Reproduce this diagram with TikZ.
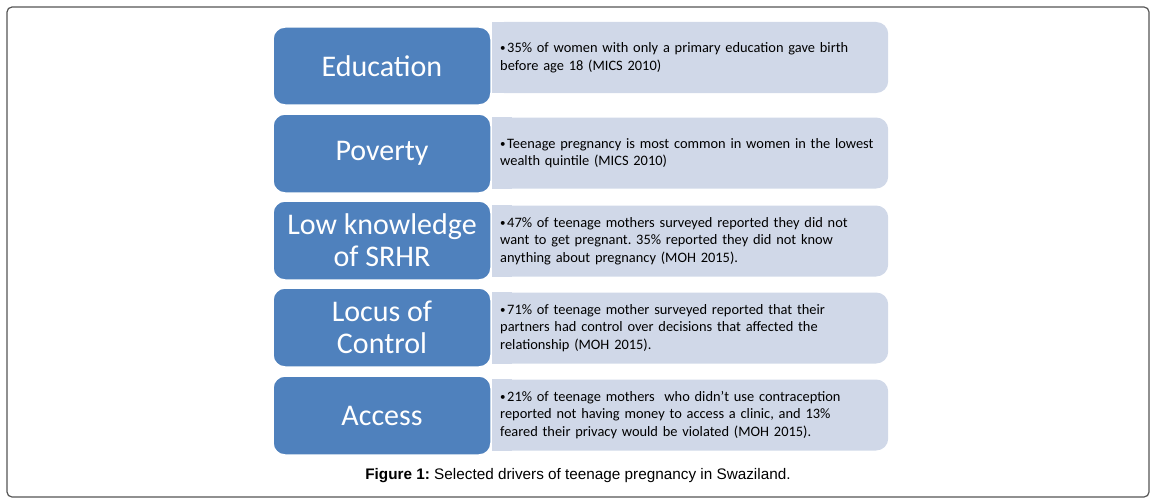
\documentclass[tikz,border=0pt]{standalone}
\usepackage{fontspec}
\setmainfont{Carlito}
\newfontfamily\capfont{Liberation Sans}
\usetikzlibrary{backgrounds}
\definecolor{bluebox}{HTML}{4F81BD}
\definecolor{lightbox}{HTML}{D0D8E8}
\definecolor{framec}{HTML}{555555}
\tikzset{
  driver/.style={fill=bluebox, draw=white, line width=1.5pt, rounded corners=12pt,
    minimum width=218pt, text=white, align=center, inner sep=0pt,
    font=\fontsize{30}{32}\selectfont},
  factbox/.style={fill=lightbox, rounded corners=12pt, minimum width=396pt,
    minimum height=71pt, anchor=west, inner xsep=8pt, inner ysep=0pt,
    text width=380pt, align=left, font=\fontsize{14.4}{17.5}\selectfont},
}
\frenchspacing
\newcommand{\fact}[1]{\frenchspacing\hangindent=7pt\hangafter=1\makebox[7pt][l]{\raisebox{1pt}{\fontsize{11}{11}\selectfont\textbullet}}#1}
\begin{document}
\begin{tikzpicture}[x=1pt,y=-1pt]
\useasboundingbox (0,0) rectangle (1156,503);
\draw[framec, line width=1.2pt, rounded corners=5pt] (7,7) rectangle (1149,497);

\node[factbox] (f1) at (492,57.5) {\fact{35\% of women with only a primary education gave birth\\before age 18 (MICS 2010)}};
\node[factbox] (f2) at (492,153) {\fact{Teenage pregnancy is most common in women in the lowest\\wealth quintile (MICS 2010)}};
\node[factbox] (f3) at (492,241) {\fact{47\% of teenage mothers surveyed reported they did not\\want to get pregnant. 35\% reported they did not know\\anything about pregnancy (MOH 2015).}};
\node[factbox] (f4) at (492,328) {\fact{71\% of teenage mother surveyed reported that their\\partners had control over decisions that affected the\\relationship (MOH 2015).}};
\node[factbox] (f5) at (492,415) {\fact{21\% of teenage mothers\ \ who didn't use contraception\\reported not having money to access a clinic, and 13\%\\feared their privacy would be violated (MOH 2015).}};
\begin{scope}[on background layer]
  \foreach \n in {f1,f2,f3,f4,f5}
    \fill[lightbox] (\n.north west) rectangle ([xshift=20pt]\n.south west);
\end{scope}

\node[driver, minimum height=78pt] (d1) at (382,66) {Education};
\node[driver, minimum height=79pt] (d2) at (382,153.5) {Poverty};
\node[driver, minimum height=79pt] (d3) at (382,240.5) {Low knowledge\\of SRHR};
\node[driver, minimum height=79pt] (d4) at (382,327.5) {Locus of\\Control};
\node[driver, minimum height=79pt] (d5) at (382,415.5) {Access};

\node[font=\capfont\fontsize{15.3}{17}\selectfont] (cap) at (578,476) {\textbf{Figure 1:} Selected drivers of teenage pregnancy in Swaziland.};
\end{tikzpicture}
\end{document}
